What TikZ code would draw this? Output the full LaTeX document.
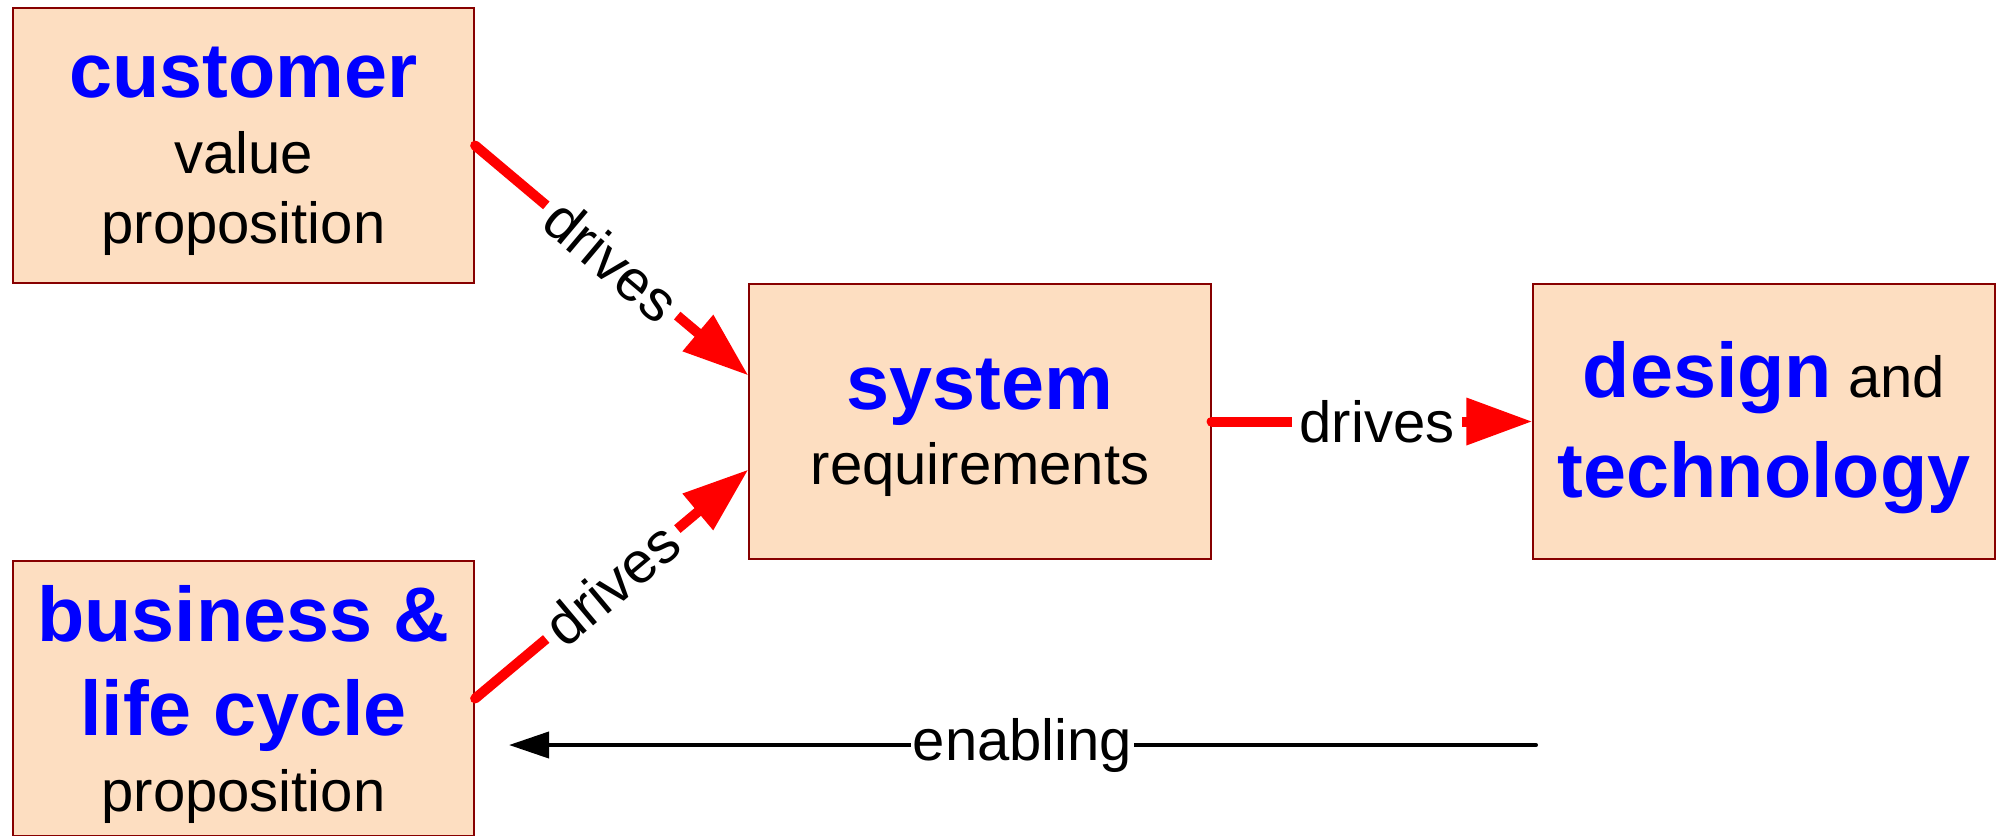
\documentclass[tikz,border=0pt]{standalone}
\usepackage{fontspec}
\setmainfont{Liberation Sans}
\usetikzlibrary{arrows.meta}

\definecolor{boxfill}{RGB}{253,222,193}
\definecolor{boxline}{RGB}{135,0,0}
\newcommand{\bigword}[1]{{\fontsize{22}{24}\selectfont\bfseries\color{blue}#1}}
\newcommand{\padtop}[1]{\raisebox{0pt}[\dimexpr\height+3.4pt\relax]{#1}}

\tikzset{
  block/.style={draw=boxline, line width=0.02cm, fill=boxfill,
    minimum width=4.61cm, minimum height=2.75cm, inner sep=0pt,
    align=center, font=\fontsize{16.5}{20}\selectfont},
  drivearrow/.style={draw=red, line width=0.1cm, line cap=round,
    -{Triangle[length=0.66cm,width=0.45cm]}},
  enablearrow/.style={draw=black, line width=0.04cm, line cap=round,
    -{Triangle[length=0.4cm,width=0.26cm]}},
  edgelabel/.style={fill=white, inner sep=0.08cm, text=black,
    font=\fontsize{16.5}{20}\selectfont}
}

\begin{document}
\begin{tikzpicture}[x=0.01cm, y=0.01cm]
\useasboundingbox (0,0) rectangle (1998,835);

\node[block] (customer) at (243.5,689.5) {\padtop{\bigword{customer}}\\[1.6pt] value\\ proposition};
\node[block] (business) at (243.5,136.5) {\padtop{\bigword{business \&}}\\[6.5pt] \bigword{life cycle}\\[1.6pt] proposition};
\node[block] (system) at (980,413.5) {\padtop{\bigword{system}}\\[1.3pt] requirements};
\node[block] (design) at (1764,413.5) {\padtop{\bigword{design} and}\\[6.7pt] \bigword{technology}};

\coordinate (enabfrom) at (1536,90);
\coordinate (enabto) at (509,90);

\draw[drivearrow] (customer.east) -- node[edgelabel, sloped] {drives} ([yshift=0.46cm]system.west);
\draw[drivearrow] (business.east) -- node[edgelabel, sloped] {drives} ([yshift=-0.48cm]system.west);
\draw[drivearrow] (system.east) -- node[edgelabel, xshift=0.05cm] {drives} (design.west);
\draw[enablearrow] (enabfrom) -- node[edgelabel, inner sep=0.02cm] {enabling} (enabto);
\end{tikzpicture}
\end{document}
